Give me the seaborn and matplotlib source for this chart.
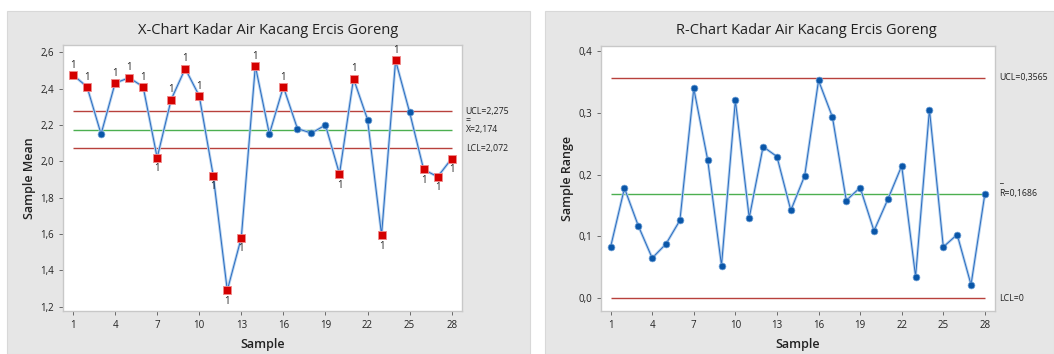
import matplotlib.pyplot as plt
import matplotlib.patches as mpatches
import pandas as pd
import seaborn as sns

SAMPLES = list(range(1, 29))
X_MEANS = [2.475, 2.41, 2.15, 2.43, 2.46, 2.41, 2.02, 2.34, 2.51, 2.36,
           1.92, 1.29, 1.58, 2.525, 2.15, 2.41, 2.18, 2.155, 2.20, 1.93,
           2.455, 2.23, 1.595, 2.555, 2.27, 1.955, 1.915, 2.015]
R_VALUES = [0.083, 0.178, 0.117, 0.065, 0.088, 0.126, 0.339, 0.224, 0.053, 0.320,
            0.130, 0.245, 0.229, 0.142, 0.198, 0.352, 0.293, 0.158, 0.179, 0.109,
            0.160, 0.214, 0.035, 0.305, 0.083, 0.103, 0.022, 0.169]
X_LIMITS = {"UCL": 2.275, "CL": 2.174, "LCL": 2.072}
R_LIMITS = {"UCL": 0.3565, "CL": 0.1686, "LCL": 0.0}
X_TICKS = [1, 4, 7, 10, 13, 16, 19, 22, 25, 28]
X_YTICKS = [1.2, 1.4, 1.6, 1.8, 2.0, 2.2, 2.4, 2.6]
R_YTICKS = [0.0, 0.1, 0.2, 0.3, 0.4]

LINE_LIGHT = "#b3d0ee"
LINE_DARK = "#2a6cc0"
BLUE_PT = "#0a56a8"
RED_PT = "#d40000"
LIMIT_RED = "#b8413c"
CENTER_GREEN = "#4caf50"
PANEL_GRAY = "#e6e6e6"
TEXT = "#222222"


def comma_fmt(v, _):
    return f"{v:.1f}".replace(".", ",")


def draw_chart(ax, df, col, limits, yticks, ylim, ylabel):
    sns.lineplot(data=df, x="sample", y=col, ax=ax, color=LINE_LIGHT,
                 linewidth=2.0, zorder=2)
    sns.lineplot(data=df, x="sample", y=col, ax=ax, color=LINE_DARK,
                 linewidth=0.7, zorder=3)
    for key, val in limits.items():
        color = CENTER_GREEN if key == "CL" else LIMIT_RED
        ax.hlines(val, SAMPLES[0], SAMPLES[-1], color=color, linewidth=1.0, zorder=1)

    ok = df[~df["out"]]
    bad = df[df["out"]]
    sns.scatterplot(data=ok, x="sample", y=col, ax=ax, marker="o", s=24,
                    color=BLUE_PT, edgecolor="#6d9fd6", linewidth=0.5, zorder=4)
    if len(bad):
        sns.scatterplot(data=bad, x="sample", y=col, ax=ax, marker="s", s=30,
                        color=RED_PT, edgecolor="#f08a8a", linewidth=0.6, zorder=4)
        for _, row in bad.iterrows():
            above = row[col] > limits["UCL"]
            ax.annotate("1", (row["sample"], row[col]),
                        xytext=(0, 7 if above else -8), textcoords="offset points",
                        ha="center", va="center", fontsize=7, color=TEXT,
                        zorder=5)

    ax.set_xlim(0.3, 28.7)
    ax.set_ylim(*ylim)
    ax.set_xticks(X_TICKS)
    ax.set_yticks(yticks)
    ax.yaxis.set_major_formatter(plt.FuncFormatter(comma_fmt))
    ax.tick_params(axis="both", labelsize=7, colors="#555555", labelcolor=TEXT,
                   length=3, width=0.6, direction="out", left=True, bottom=True)
    ax.set_xlabel("Sample", fontsize=9, color=TEXT, fontweight="semibold", labelpad=5)
    ax.set_ylabel(ylabel, fontsize=9, color=TEXT, fontweight="semibold", labelpad=3)
    ax.set_facecolor("white")
    for sp in ax.spines.values():
        sp.set_color("#c8c8c8")
        sp.set_linewidth(1.0)


def limit_label(ax, text, y, dy=0):
    ax.annotate(text, (1, y), xycoords=("axes fraction", "data"),
                xytext=(3, dy), textcoords="offset points", ha="left",
                va="center", fontsize=6.3, color=TEXT, annotation_clip=False)


def main():
    sns.set_theme(style="white")
    plt.rcParams["font.family"] = ["Open Sans", "DejaVu Sans"]

    x_df = pd.DataFrame({"sample": SAMPLES, "mean": X_MEANS})
    x_df["out"] = (x_df["mean"] > X_LIMITS["UCL"]) | (x_df["mean"] < X_LIMITS["LCL"])
    r_df = pd.DataFrame({"sample": SAMPLES, "range": R_VALUES})
    r_df["out"] = (r_df["range"] > R_LIMITS["UCL"]) | (r_df["range"] < R_LIMITS["LCL"])

    fig = plt.figure(figsize=(10.54, 3.54), dpi=100)
    fig.patch.set_facecolor("white")
    for x0, x1 in [(7, 530), (545, 1054)]:
        fig.patches.append(mpatches.Rectangle(
            (x0 / 1054, 0), (x1 - x0) / 1054, 343 / 354, transform=fig.transFigure,
            facecolor=PANEL_GRAY, edgecolor="#d8d8d8", linewidth=0.8, zorder=-10))

    ax1 = fig.add_axes([63.2 / 1054, 0.1223, 398.3 / 1054, 0.7506])
    ax2 = fig.add_axes([600.9 / 1054, 0.1223, 393.7 / 1054, 0.7477])

    draw_chart(ax1, x_df, "mean", X_LIMITS, X_YTICKS, (1.178, 2.64), "Sample Mean")
    draw_chart(ax2, r_df, "range", R_LIMITS, R_YTICKS, (-0.02, 0.4076), "Sample Range")

    limit_label(ax1, "UCL=2,275", X_LIMITS["UCL"])
    limit_label(ax1, "=", X_LIMITS["CL"], dy=6.5)
    limit_label(ax1, "X=2,174", X_LIMITS["CL"])
    limit_label(ax1, "LCL=2,072", X_LIMITS["LCL"])
    limit_label(ax2, "UCL=0,3565", R_LIMITS["UCL"])
    limit_label(ax2, "_", R_LIMITS["CL"], dy=10.5)
    limit_label(ax2, "R=0,1686", R_LIMITS["CL"])
    limit_label(ax2, "LCL=0", R_LIMITS["LCL"])

    fig.text(268 / 1054, 1 - 30 / 354, "X-Chart Kadar Air Kacang Ercis Goreng",
             ha="center", va="center", fontsize=10.5, color=TEXT, fontweight="medium")
    fig.text(806 / 1054, 1 - 30 / 354, "R-Chart Kadar Air Kacang Ercis Goreng",
             ha="center", va="center", fontsize=10.5, color=TEXT, fontweight="medium")

    fig.savefig("out.png", dpi=100)


if __name__ == "__main__":
    main()
